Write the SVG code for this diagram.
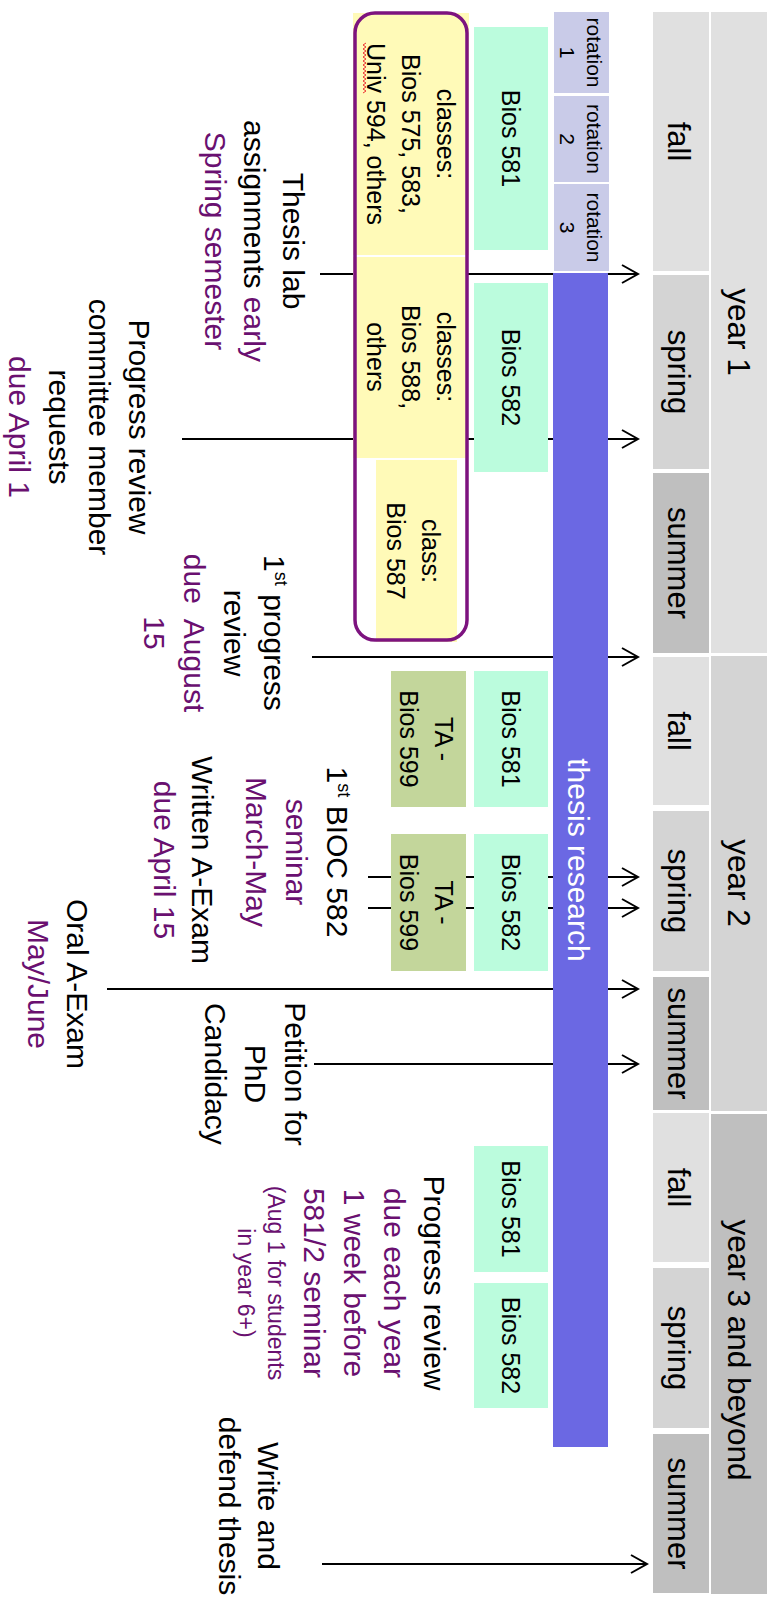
<svg xmlns="http://www.w3.org/2000/svg" width="774" height="1608" viewBox="0 0 774 1608">
<defs>
<style>
text{font-family:"Liberation Sans",Arial,sans-serif;text-anchor:middle;fill:#000}
.yr{font-size:31.5px}
.se{font-size:31px}
.rot{font-size:21px}
.bios{font-size:25px}
.cls{font-size:25px}
.lbl{font-size:30px}
.sm{font-size:23px}
.sup{font-size:18px}
.pu{fill:#6A1070}
.wt{fill:#fff;font-size:30px}
.conn path{stroke:#000;stroke-width:2;fill:none;marker-end:url(#arr)}
.g1{fill:#E0E0E0}.g2{fill:#D4D4D4}.g3{fill:#BFBFBF}
.rotb{fill:#C9CBE8}
.mint{fill:#BBFCDD}
.ta{fill:#C3D69B}
.yel{fill:#FFFAB8}
.bar{fill:#6B68E3}
</style>
<marker id="arr" markerUnits="userSpaceOnUse" markerWidth="20" markerHeight="20" viewBox="0 0 20 20" refX="18" refY="10" orient="auto">
<path d="M2,1 L18,10 L2,19" fill="none" stroke="#000" stroke-width="2"/>
</marker>
</defs>
<rect width="774" height="1608" fill="#fff"/>
<g transform="translate(774,0) rotate(90)">

<g id="connectors" class="conn">
<path d="M274 454 L274 136"/>
<path d="M439 592 L439 136"/>
<path d="M657 462 L657 136"/>
<path d="M877 406 L877 136"/>
<path d="M908 406 L908 136"/>
<path d="M989 667 L989 136"/>
<path d="M1064 460 L1064 136"/>
<path d="M1564 452 L1564 127"/>
</g>

<g id="year1"><rect class="g1" x="12" y="7" width="641" height="56"/><text class="yr" x="332" y="46">year 1</text></g>
<g id="year2"><rect class="g2" x="656" y="7" width="455" height="56"/><text class="yr" x="883" y="46">year 2</text></g>
<g id="year3"><rect class="g3" x="1114" y="7" width="480" height="56"/><text class="yr" x="1350" y="46">year 3 and beyond</text></g>

<g id="fall1"><rect class="g1" x="12" y="65" width="259" height="56"/><text class="se" x="141.5" y="106">fall</text></g>
<g id="spring1"><rect class="g2" x="275" y="65" width="194" height="56"/><text class="se" x="372" y="106">spring</text></g>
<g id="summer1"><rect class="g3" x="473" y="65" width="180" height="56"/><text class="se" x="563" y="106">summer</text></g>
<g id="fall2"><rect class="g1" x="657" y="65" width="148" height="56"/><text class="se" x="731" y="106">fall</text></g>
<g id="spring2"><rect class="g2" x="811" y="65" width="160" height="56"/><text class="se" x="891" y="106">spring</text></g>
<g id="summer2"><rect class="g3" x="977" y="65" width="133" height="56"/><text class="se" x="1043.5" y="106">summer</text></g>
<g id="fall3"><rect class="g1" x="1113" y="65" width="149" height="56"/><text class="se" x="1187.5" y="106">fall</text></g>
<g id="spring3"><rect class="g2" x="1268" y="65" width="160" height="56"/><text class="se" x="1348" y="106">spring</text></g>
<g id="summer3"><rect class="g3" x="1434" y="65" width="159" height="56"/><text class="se" x="1513.5" y="106">summer</text></g>

<g id="rotation1"><rect class="rotb" x="12" y="165" width="81" height="55"/><text class="rot" x="52.5" y="187">rotation</text><text class="rot" x="52.5" y="214">1</text></g>
<g id="rotation2"><rect class="rotb" x="96" y="165" width="86" height="55"/><text class="rot" x="139" y="187">rotation</text><text class="rot" x="139" y="214">2</text></g>
<g id="rotation3"><rect class="rotb" x="184" y="165" width="87" height="55"/><text class="rot" x="227.5" y="187">rotation</text><text class="rot" x="227.5" y="214">3</text></g>

<g id="thesis-research"><rect class="bar" x="273" y="166" width="1174" height="55"/><text class="wt" x="860" y="206">thesis research</text></g>

<g id="bios581-y1"><rect class="mint" x="27" y="226" width="223" height="74"/><text class="bios" x="138.5" y="272">Bios 581</text></g>
<g id="bios582-y1"><rect class="mint" x="283" y="226" width="189" height="74"/><text class="bios" x="377.5" y="272">Bios 582</text></g>
<g id="bios581-y2"><rect class="mint" x="671" y="226" width="136" height="74"/><text class="bios" x="739" y="272">Bios 581</text></g>
<g id="bios582-y2"><rect class="mint" x="834" y="226" width="137" height="74"/><text class="bios" x="902.5" y="272">Bios 582</text></g>
<g id="bios581-y3"><rect class="mint" x="1146" y="226" width="126" height="74"/><text class="bios" x="1209" y="272">Bios 581</text></g>
<g id="bios582-y3"><rect class="mint" x="1283" y="226" width="125" height="74"/><text class="bios" x="1345.5" y="272">Bios 582</text></g>

<g id="ta1"><rect class="ta" x="671" y="308" width="136" height="75"/><text class="bios" x="739" y="339">TA -</text><text class="bios" x="739" y="374">Bios 599</text></g>
<g id="ta2"><rect class="ta" x="834" y="308" width="137" height="75"/><text class="bios" x="902.5" y="339">TA -</text><text class="bios" x="902.5" y="374">Bios 599</text></g>

<g id="classes">
<rect class="yel" x="13" y="305" width="242" height="116"/>
<rect class="yel" x="257" y="307" width="201" height="114"/>
<rect class="yel" x="460" y="317" width="182" height="81"/>
<text class="cls" x="134" y="337">classes:</text>
<text class="cls" x="134" y="372">Bios 575, 583,</text>
<text class="cls" x="134" y="407">Univ 594, others</text>
<polyline points="43,408 45,411 47,408 49,411 51,408 53,411 55,408 57,411 59,408 61,411 63,408 65,411 67,408 69,411 71,408 73,411 75,408 77,411 79,408 81,411 83,408 85,411 87,408 89,411 91,408 93,411" fill="none" stroke="#E33" stroke-width="1"/>
<text class="cls" x="357" y="337">classes:</text>
<text class="cls" x="357" y="372">Bios 588,</text>
<text class="cls" x="357" y="407">others</text>
<text class="cls" x="551" y="352">class:</text>
<text class="cls" x="551" y="387">Bios 587</text>
<rect x="13" y="307" width="627" height="112" rx="20" ry="20" fill="none" stroke="#7D137F" stroke-width="3.5"/>
</g>

<g id="thesis-lab">
<text class="lbl" x="241" y="491">Thesis lab</text>
<text class="lbl" x="241" y="530">assignments <tspan class="pu">early</tspan></text>
<text class="lbl pu" x="241" y="569">Spring semester</text>
</g>
<g id="committee-requests">
<text class="lbl" x="427" y="645">Progress review</text>
<text class="lbl" x="427" y="685">committee member</text>
<text class="lbl" x="427" y="725">requests</text>
<text class="lbl pu" x="427" y="765">due April 1</text>
</g>
<g id="first-review">
<text class="lbl" x="633" y="510">1<tspan class="sup" dy="-11">st</tspan><tspan dy="11"> progress</tspan></text>
<text class="lbl" x="633" y="550">review</text>
<text class="lbl pu" x="633" y="590">due&#160; August</text>
<text class="lbl pu" x="633" y="630">15</text>
</g>
<g id="bioc-seminar">
<text class="lbl" x="852" y="447">1<tspan class="sup" dy="-11">st</tspan><tspan dy="11"> BIOC 582</tspan></text>
<text class="lbl pu" x="852" y="488">seminar</text>
<text class="lbl pu" x="852" y="528">March-May</text>
</g>
<g id="written-exam">
<text class="lbl" x="860" y="582">Written A-Exam</text>
<text class="lbl pu" x="860" y="620">due April 15</text>
</g>
<g id="oral-exam">
<text class="lbl" x="984" y="707">Oral A-Exam</text>
<text class="lbl pu" x="984" y="746">May/June</text>
</g>
<g id="petition">
<text class="lbl" x="1074" y="489">Petition for</text>
<text class="lbl" x="1074" y="529">PhD</text>
<text class="lbl" x="1074" y="569">Candidacy</text>
</g>
<g id="annual-review">
<text class="lbl" x="1283" y="350">Progress review</text>
<text class="lbl pu" x="1283" y="390">due each year</text>
<text class="lbl pu" x="1283" y="430">1 week before</text>
<text class="lbl pu" x="1283" y="470">581/2 seminar</text>
<text class="sm pu" x="1283" y="506">(Aug 1 for students</text>
<text class="sm pu" x="1283" y="536">in year 6+)</text>
</g>
<g id="defend">
<text class="lbl" x="1506" y="516">Write and</text>
<text class="lbl" x="1506" y="555">defend thesis</text>
</g>

</g>
</svg>
